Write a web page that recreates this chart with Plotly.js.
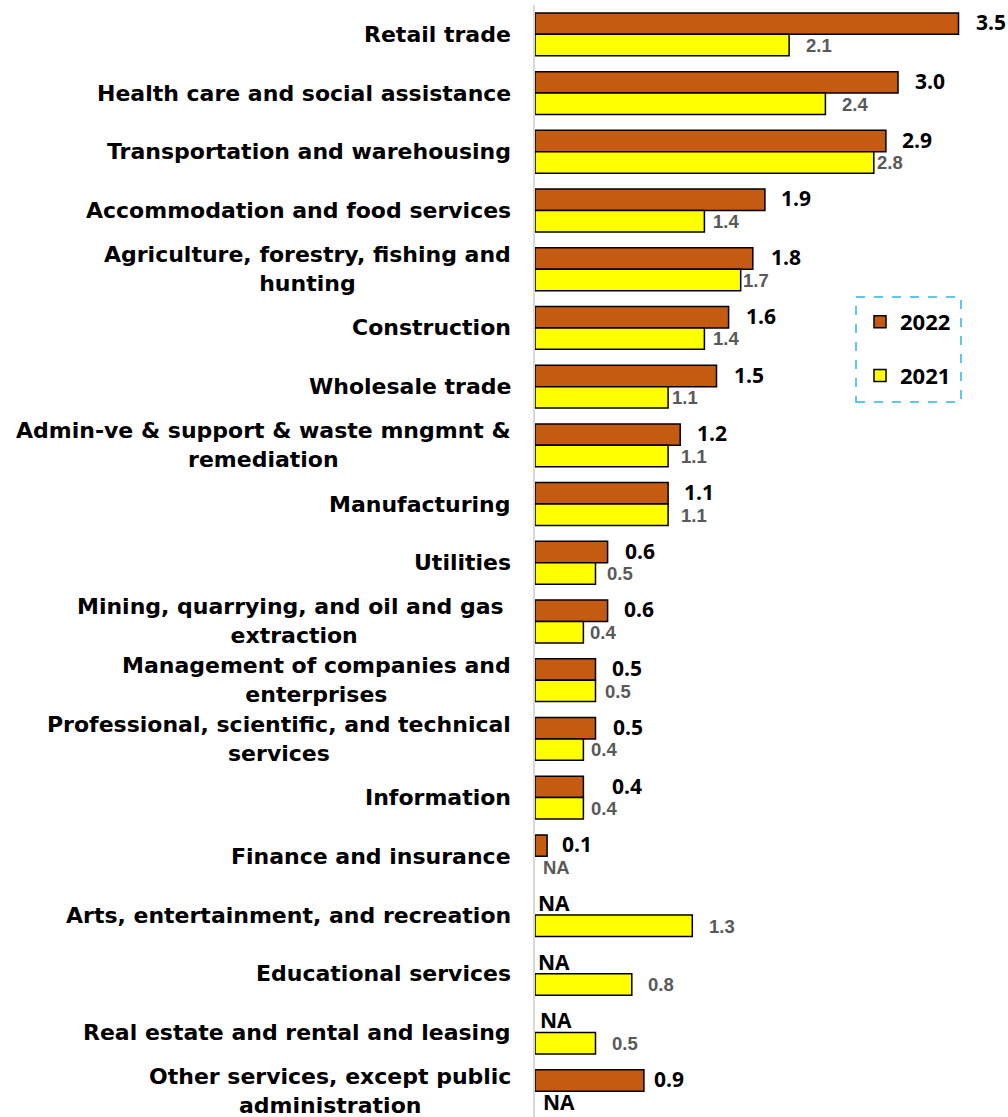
<!DOCTYPE html>
<html><head><meta charset="utf-8">
<script src="https://cdn.plot.ly/plotly-3.0.1.min.js"></script>
<style>html,body{margin:0;padding:0;background:#fff}</style>
</head><body>
<div id="chart" style="width:1008px;height:1117px"></div>
<script>
// ---- data ----
const categories = [
  "Retail trade",
  "Health care and social assistance",
  "Transportation and warehousing",
  "Accommodation and food services",
  "Agriculture, forestry, fishing and<br>hunting",
  "Construction",
  "Wholesale trade",
  "Admin-ve & support & waste mngmnt &<br>remediation",
  "Manufacturing",
  "Utilities",
  "Mining, quarrying, and oil and gas\u00a0<br>extraction",
  "Management of companies and<br>enterprises",
  "Professional, scientific, and technical<br>services",
  "Information",
  "Finance and insurance",
  "Arts, entertainment, and recreation",
  "Educational services",
  "Real estate and rental and leasing",
  "Other services, except public<br>administration"
];
const values2022 = [3.5, 3.0, 2.9, 1.9, 1.8, 1.6, 1.5, 1.2, 1.1, 0.6, 0.6, 0.5, 0.5, 0.4, 0.1, null, null, null, 0.9];
const values2021 = [2.1, 2.4, 2.8, 1.4, 1.7, 1.4, 1.1, 1.1, 1.1, 0.5, 0.4, 0.5, 0.4, 0.4, null, 1.3, 0.8, 0.5, null];
const seriesNames = ["2022", "2021"];

// ---- label nudges (layout only) ----
const gap2022 = [17, 17, 16, 16, 18, 17, 17, 17, 16, 17, 16, 16, 17, 29, 15, 3, 3, 5, 10];
const gap2021 = [17, 17, 3, 9, 2, 9, 4, 13, 13, 11, 7, 9, 8, 8, 8, 17, 16, 16, 8];

const COL22 = "#C55A11", COL21 = "#FFFF00";
const darkFont = {family: "Open Sans, Noto Sans, sans-serif", size: 21, color: "#000000", weight: "bold"};
const greyFont = {family: "Liberation Sans, Arial, sans-serif", size: 18.5, color: "#595959", weight: "bold"};
const catFont = {family: "DejaVu Sans, sans-serif", size: 22, color: "#000000", weight: "bold"};

const fmt = v => (v == null ? "NA" : v.toFixed(1));

const traces = [
  {type: "bar", orientation: "h", name: seriesNames[0], y: categories, x: values2022,
   marker: {color: COL22, line: {color: "#000000", width: 1.5}}, legendgroup: "a", hoverinfo: "x+name"},
  {type: "bar", orientation: "h", name: seriesNames[1], y: categories, x: values2021,
   marker: {color: COL21, line: {color: "#000000", width: 1.5}}, legendgroup: "b", hoverinfo: "x+name"}
];

const annotations = [];
categories.forEach((c, i) => {
  annotations.push({xref: "paper", x: 0, yref: "y", y: c, xanchor: "right", yanchor: "middle",
    xshift: -22, text: c, align: "center", showarrow: false, font: catFont});
  const v22 = values2022[i], v21 = values2021[i];
  annotations.push({xref: "x", x: v22 == null ? 0 : v22, yref: "y", y: c, xanchor: "left", yanchor: "middle",
    xshift: gap2022[i] - 2, yshift: 12, text: fmt(v22), showarrow: false, font: darkFont});
  const naDark = (v21 == null && i === categories.length - 1);
  annotations.push({xref: "x", x: v21 == null ? 0 : v21, yref: "y", y: c, xanchor: "left", yanchor: "middle",
    xshift: gap2021[i] - 2, yshift: -11, text: fmt(v21), showarrow: false, font: naDark ? darkFont : greyFont});
});

const layout = {
  width: 1008, height: 1117,
  margin: {l: 535, r: 0, t: 5, b: 0},
  paper_bgcolor: "#ffffff", plot_bgcolor: "#ffffff",
  barmode: "group", bargap: 0.27, bargroupgap: 0,
  xaxis: {range: [0, 3.909], visible: false, fixedrange: true},
  yaxis: {type: "category", categoryorder: "array", categoryarray: categories,
    range: [18.44, -0.5], showticklabels: false, ticks: "", showgrid: false, zeroline: false,
    showline: true, linecolor: "#D9D9D9", linewidth: 2, fixedrange: true},
  showlegend: true,
  legend: {xref: "paper", yref: "paper", x: (860 - 535) / 473, y: (1117 - 301) / 1112,
    xanchor: "left", yanchor: "top", traceorder: "grouped", tracegroupgap: 22,
    bgcolor: "rgba(0,0,0,0)", font: {family: "Open Sans, Noto Sans, sans-serif", size: 22, color: "#000000", weight: "bold"}},
  shapes: [{type: "rect", xref: "paper", yref: "paper",
    x0: (856 - 535) / 473, x1: (961 - 535) / 473, y0: (1117 - 402) / 1112, y1: (1117 - 297) / 1112,
    line: {color: "#2EB4E8", width: 1.5, dash: "dash"}, fillcolor: "rgba(0,0,0,0)"}],
  annotations: annotations
};

Plotly.newPlot("chart", traces, layout, {displayModeBar: false, staticPlot: true});
</script>
</body></html>
